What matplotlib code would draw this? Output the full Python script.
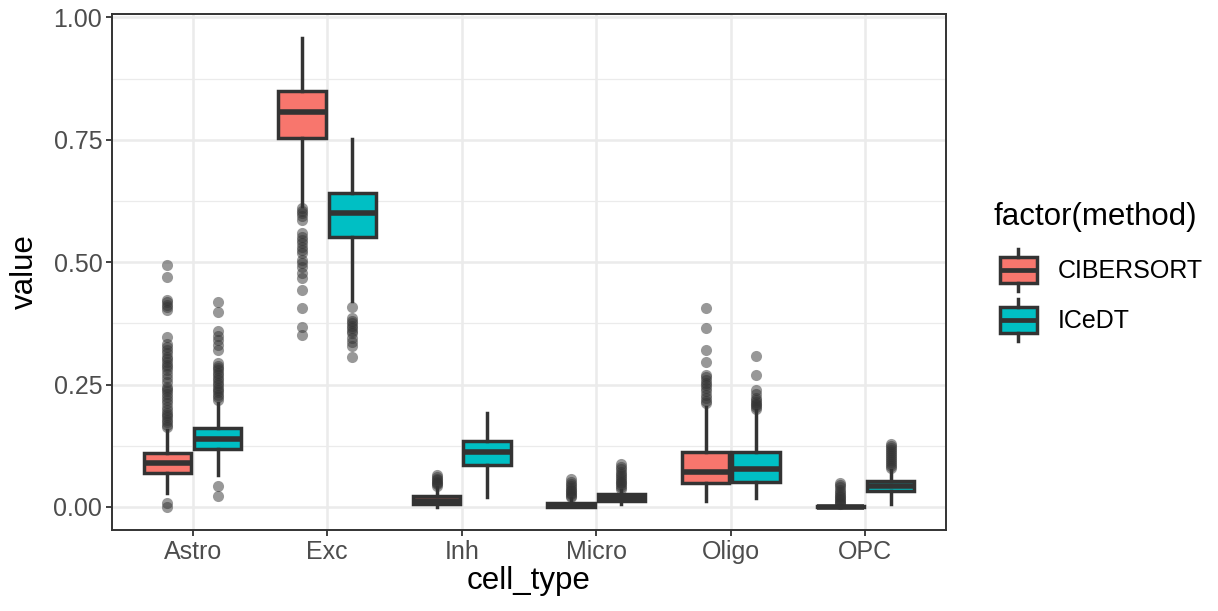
import matplotlib
matplotlib.use("Agg")
import matplotlib.pyplot as plt
from matplotlib.patches import Rectangle

plt.rcParams['font.family'] = ['Liberation Sans', 'DejaVu Sans']

cell_types = ["Astro", "Exc", "Inh", "Micro", "Oligo", "OPC"]
methods = ["CIBERSORT", "ICeDT"]
colors = {"CIBERSORT": "#F8766D", "ICeDT": "#00BFC4"}

# box summaries per method: (whislo, q1, med, q3, whishi) in cell_types order
cibersort_stats = [
    (0.029, 0.069, 0.090, 0.110, 0.157),
    (0.614, 0.754, 0.806, 0.849, 0.958),
    (0.001, 0.007, 0.013, 0.023, 0.040),
    (0.000, 0.001, 0.004, 0.008, 0.018),
    (0.013, 0.048, 0.071, 0.113, 0.205),
    (0.000, 0.000, 0.001, 0.002, 0.005),
]
icedt_stats = [
    (0.065, 0.118, 0.139, 0.161, 0.212),
    (0.420, 0.551, 0.601, 0.642, 0.751),
    (0.021, 0.086, 0.113, 0.135, 0.191),
    (0.006, 0.013, 0.019, 0.026, 0.035),
    (0.018, 0.052, 0.077, 0.113, 0.198),
    (0.006, 0.032, 0.042, 0.053, 0.076),
]

cibersort_outliers = [
    [0.495, 0.469, 0.423, 0.418, 0.413, 0.408, 0.403, 0.348, 0.333, 0.327, 0.321,
     0.314, 0.307, 0.302, 0.297, 0.290, 0.285, 0.280, 0.271, 0.263, 0.255, 0.246,
     0.241, 0.236, 0.230, 0.225, 0.218, 0.212, 0.205, 0.198, 0.193, 0.188, 0.183,
     0.178, 0.173, 0.168, 0.163, 0.0076, 0.0007],
    [0.610, 0.605, 0.600, 0.594, 0.587, 0.559, 0.552, 0.546, 0.539, 0.532, 0.525,
     0.518, 0.505, 0.498, 0.491, 0.478, 0.467, 0.443, 0.406, 0.368, 0.352],
    [0.066, 0.062, 0.058, 0.055, 0.052, 0.049, 0.046, 0.043],
    [0.058, 0.052, 0.047, 0.043, 0.039, 0.035, 0.032, 0.029, 0.026, 0.023, 0.020],
    [0.406, 0.366, 0.321, 0.297, 0.270, 0.265, 0.260, 0.254, 0.249, 0.243, 0.236,
     0.229, 0.222, 0.217, 0.212],
    [0.050, 0.045, 0.040, 0.035, 0.031, 0.027, 0.023, 0.020, 0.017, 0.014, 0.011,
     0.009, 0.007],
]
icedt_outliers = [
    [0.418, 0.399, 0.360, 0.350, 0.341, 0.331, 0.321, 0.294, 0.289, 0.284, 0.279,
     0.274, 0.269, 0.264, 0.259, 0.254, 0.249, 0.244, 0.239, 0.234, 0.229, 0.224,
     0.218, 0.0436, 0.023],
    [0.409, 0.386, 0.380, 0.375, 0.370, 0.365, 0.360, 0.355, 0.346, 0.338, 0.328,
     0.307],
    [],
    [0.087, 0.082, 0.077, 0.072, 0.068, 0.064, 0.060, 0.056, 0.052, 0.048, 0.044,
     0.040, 0.037],
    [0.309, 0.270, 0.239, 0.230, 0.222, 0.218, 0.215, 0.211, 0.208, 0.204, 0.201],
    [0.128, 0.124, 0.120, 0.116, 0.112, 0.108, 0.104, 0.100, 0.096, 0.092, 0.088,
     0.084, 0.080],
]

y_ticks = [0.0, 0.25, 0.5, 0.75, 1.0]
y_ticklabels = ["0.00", "0.25", "0.50", "0.75", "1.00"]

W, H = 1218, 611
fig = plt.figure(figsize=(W / 100, H / 100), dpi=100)
ax = fig.add_axes([112 / W, 1 - 530 / H, (946 - 112) / W, (530 - 14) / H])

edge = "#333333"
box_lw = 2.5
dodge = 0.1875
for m, stats, outs, shift in [("CIBERSORT", cibersort_stats, cibersort_outliers, -dodge),
                              ("ICeDT", icedt_stats, icedt_outliers, dodge)]:
    bx = []
    for (lo, q1, med, q3, hi), fl in zip(stats, outs):
        bx.append(dict(whislo=lo, q1=q1, med=med, q3=q3, whishi=hi, fliers=fl))
    pos = [i + 1 + shift for i in range(len(cell_types))]
    ax.bxp(bx, positions=pos, widths=0.35, patch_artist=True, showcaps=False,
           boxprops=dict(facecolor=colors[m], edgecolor=edge, linewidth=box_lw),
           whiskerprops=dict(color=edge, linewidth=box_lw),
           medianprops=dict(color=edge, linewidth=4.0, solid_capstyle="butt"),
           flierprops=dict(marker="o", markerfacecolor="#333333", markeredgecolor="none",
                           markersize=8, alpha=0.5),
           zorder=3)

ax.set_xlim(0.4, 6.6)
ax.set_ylim(-0.047, 1.007)
ax.set_yticks(y_ticks)
ax.set_yticklabels(y_ticklabels)
ax.set_yticks([0.125, 0.375, 0.625, 0.875], minor=True)
ax.set_xticks(range(1, len(cell_types) + 1))
ax.set_xticklabels(cell_types)

ax.grid(True, which="major", color="#EBEBEB", linewidth=1.8, zorder=0)
ax.grid(True, which="minor", axis="y", color="#EBEBEB", linewidth=0.9, zorder=0)
ax.set_axisbelow(True)
ax.tick_params(axis="both", which="major", length=4, width=1.3, color="#333333",
               labelsize=18, labelcolor="#4D4D4D", pad=3)
ax.tick_params(which="minor", length=0)
for s in ax.spines.values():
    s.set_color("#333333")
    s.set_linewidth(1.4)

ax.set_xlabel("cell_type", fontsize=22.5, labelpad=2)
ax.set_ylabel("value", fontsize=22.5, labelpad=10)

# legend drawn in pixel coordinates on an overlay
lg = fig.add_axes([0, 0, 1, 1])
lg.set_xlim(0, W)
lg.set_ylim(H, 0)
lg.axis("off")
lg.text(993, 217, "factor(method)", fontsize=22.5, va="center", ha="left")
for m, yc in [("CIBERSORT", 270), ("ICeDT", 320)]:
    lg.plot([1018, 1018], [yc - 21, yc - 13], color=edge, lw=box_lw)
    lg.plot([1018, 1018], [yc + 13, yc + 21], color=edge, lw=box_lw)
    lg.add_patch(Rectangle((1000, yc - 13), 37, 26, facecolor=colors[m],
                           edgecolor=edge, linewidth=box_lw))
    lg.plot([1000, 1037], [yc, yc], color=edge, lw=3.4, solid_capstyle="butt")
    lg.text(1058, yc + 1, m, fontsize=18, va="center", ha="left")

fig.savefig("out.png", dpi=100)
